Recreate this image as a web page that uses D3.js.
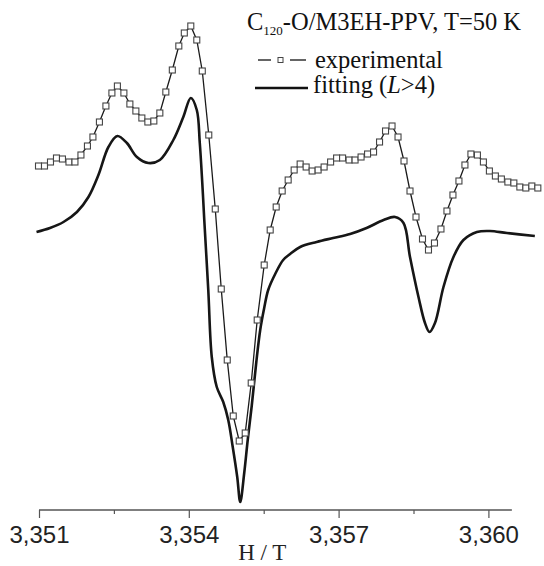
<!DOCTYPE html>
<html>
<head>
<meta charset="utf-8">
<script src="https://cdn.jsdelivr.net/npm/d3@7"></script>
<style>
  body { margin: 0; background: #fff; }
  svg { display: block; }
</style>
</head>
<body>
<script>
// ESR spectrum, values (intensity in arbitrary units)

var expField = [3.35099,3.35111,3.35123,3.35135,3.35147,3.35160,3.35172,3.35184,3.35197,3.35208,
    3.35221,3.35234,3.35246,3.35257,3.35270,3.35282,3.35294,3.35306,3.35318,3.35330,
    3.35342,3.35354,3.35367,3.35380,3.35391,3.35404,3.35416,3.35427,3.35440,3.35453,
    3.35465,3.35477,3.35489,3.35501,3.35513,3.35525,3.35537,3.35551,3.35563,3.35575,
    3.35587,3.35599,3.35611,3.35623,3.35635,3.35647,3.35659,3.35671,3.35684,3.35696,
    3.35708,3.35721,3.35733,3.35745,3.35758,3.35770,3.35782,3.35794,3.35807,3.35819,
    3.35831,3.35843,3.35855,3.35868,3.35880,3.35892,3.35905,3.35917,3.35929,3.35941,
    3.35953,3.35965,3.35978,3.35990,3.36002,3.36014,3.36026,3.36039,3.36051,3.36063,
    3.36075,3.36087,3.36099];
var expSignal = [3.44,3.44,3.48,3.52,3.51,3.48,3.48,3.55,3.64,3.73,
    3.88,4.04,4.17,4.24,4.17,4.06,3.99,3.92,3.88,3.89,
    3.97,4.18,4.40,4.64,4.77,4.84,4.70,4.39,3.75,3.01,
    2.21,1.50,0.94,0.69,0.77,1.27,1.90,2.45,2.80,3.03,
    3.19,3.30,3.40,3.46,3.43,3.39,3.40,3.43,3.48,3.52,
    3.52,3.50,3.50,3.53,3.56,3.58,3.68,3.79,3.84,3.73,
    3.49,3.19,2.93,2.71,2.60,2.67,2.81,2.99,3.15,3.29,
    3.45,3.56,3.55,3.48,3.39,3.34,3.31,3.28,3.27,3.23,
    3.22,3.24,3.22];

var fitField = [3.35095,3.35122,3.35149,3.35176,3.35199,3.35219,3.35239,3.35257,3.35276,3.35296,
    3.35319,3.35342,3.35369,3.35389,3.35404,3.35416,3.35422,3.35427,3.35431,3.35439,
    3.35446,3.35456,3.35469,3.35479,3.35488,3.35497,3.35503,3.35511,3.35518,3.35526,
    3.35535,3.35543,3.35551,3.35559,3.35573,3.35589,3.35603,3.35623,3.35656,3.35689,
    3.35723,3.35756,3.35790,3.35813,3.35830,3.35843,3.35860,3.35873,3.35882,3.35893,
    3.35910,3.35930,3.35950,3.35977,3.36003,3.36037,3.36093];
var fitSignal = [2.78,2.82,2.88,2.98,3.13,3.35,3.63,3.74,3.67,3.53,
    3.47,3.50,3.70,3.93,4.12,4.00,3.67,3.27,2.90,2.20,
    1.53,1.23,1.08,0.90,0.63,0.33,0.08,0.37,0.70,1.04,
    1.47,1.80,2.02,2.20,2.36,2.50,2.56,2.63,2.68,2.72,
    2.76,2.82,2.90,2.93,2.87,2.53,2.13,1.87,1.78,1.87,
    2.23,2.53,2.70,2.78,2.79,2.77,2.74];

var majorTicks = [3.351, 3.354, 3.357, 3.360];
var minorTicks = [3.3525, 3.3555, 3.3585];

var width = 544, height = 566;

var x = d3.scaleLinear()
    .domain([3.351, 3.360])
    .range([39, 488.4]);

var y = d3.scaleLinear()
    .domain([0, 5])
    .range([510, 10]);

var commaLocale = d3.formatLocale({decimal: ",", thousands: ".", grouping: [3], currency: ["", ""]});
var fmt = commaLocale.format(".3f");

var svg = d3.select("body").append("svg")
    .attr("width", width)
    .attr("height", height);

///////////////////////////
// AXIS

var xAxis = d3.axisBottom(x)
    .tickValues(majorTicks)
    .tickSize(8)
    .tickPadding(8)
    .tickFormat(fmt)
    .tickSizeOuter(0);

var xMinor = d3.axisBottom(x)
    .tickValues(minorTicks)
    .tickSize(4)
    .tickFormat("");

var gx = svg.append("g")
    .attr("transform", "translate(0," + y(0) + ")")
    .call(xAxis);
gx.select(".domain").remove();
gx.selectAll("line").attr("stroke", "#555").attr("stroke-width", 1.2);
gx.selectAll("text")
    .style("font-family", "'Liberation Sans', Arial, sans-serif")
    .style("font-size", "24px")
    .attr("fill", "#222");

var gm = svg.append("g")
    .attr("transform", "translate(0," + y(0) + ")")
    .call(xMinor);
gm.select(".domain").remove();
gm.selectAll("line").attr("stroke", "#555").attr("stroke-width", 1.2);

// baseline, runs a bit past the last tick
svg.append("line")
    .attr("x1", x(3.351)).attr("x2", x(3.36047))
    .attr("y1", y(0)).attr("y2", y(0))
    .attr("stroke", "#555")
    .attr("stroke-width", 1.4);

svg.append("text")
    .attr("x", x(3.35547))
    .attr("y", 560)
    .attr("text-anchor", "middle")
    .style("font-family", "'Liberation Serif', 'Times New Roman', serif")
    .style("font-size", "23px")
    .attr("fill", "#222")
    .text("H / T");

///////////////////////////
// CURVES

var expData = expField.map(function(h, i) { return [h, expSignal[i]]; });
var fitData = fitField.map(function(h, i) { return [h, fitSignal[i]]; });

var expLine = d3.line()
    .x(function(d) { return x(d[0]); })
    .y(function(d) { return y(d[1]); });

var fitLine = d3.line()
    .curve(d3.curveCatmullRom.alpha(0.5))
    .x(function(d) { return x(d[0]); })
    .y(function(d) { return y(d[1]); });

svg.append("path")
    .datum(fitData)
    .attr("d", fitLine)
    .attr("fill", "none")
    .attr("stroke", "#161616")
    .attr("stroke-width", 2.6)
    .attr("stroke-linejoin", "round");

svg.append("path")
    .datum(expData)
    .attr("d", expLine)
    .attr("fill", "none")
    .attr("stroke", "#1a1a1a")
    .attr("stroke-width", 1.3);

var sq = 6;
svg.selectAll(".pt")
    .data(expData)
    .enter().append("rect")
    .attr("class", "pt")
    .attr("x", function(d) { return x(d[0]) - sq / 2; })
    .attr("y", function(d) { return y(d[1]) - sq / 2; })
    .attr("width", sq)
    .attr("height", sq)
    .attr("fill", "#fff")
    .attr("stroke", "#444")
    .attr("stroke-width", 1.1);

///////////////////////////
// TITLE + LEGEND

var serif = "'Liberation Serif', 'Times New Roman', serif";

var title = svg.append("text")
    .attr("x", 247)
    .attr("y", 30)
    .style("font-family", serif)
    .style("font-size", "24.5px")
    .attr("fill", "#111");
title.append("tspan").text("C");
title.append("tspan").attr("dy", 5).style("font-size", "13px").text("120");
title.append("tspan").attr("dy", -5).text("-O/M3EH-PPV, T=50 K");

var lg = svg.append("g");
lg.append("line")
    .attr("x1", 258).attr("x2", 271).attr("y1", 60).attr("y2", 60)
    .attr("stroke", "#111").attr("stroke-width", 1.3);
lg.append("line")
    .attr("x1", 290).attr("x2", 306).attr("y1", 60).attr("y2", 60)
    .attr("stroke", "#111").attr("stroke-width", 1.3);
lg.append("rect")
    .attr("x", 278).attr("y", 57.5).attr("width", 5).attr("height", 5)
    .attr("fill", "#fff").attr("stroke", "#444").attr("stroke-width", 1);
lg.append("text")
    .attr("x", 315).attr("y", 68)
    .style("font-family", serif).style("font-size", "24.5px").attr("fill", "#111")
    .text("experimental");

lg.append("line")
    .attr("x1", 255).attr("x2", 308).attr("y1", 88).attr("y2", 88)
    .attr("stroke", "#111").attr("stroke-width", 2.6);
var fitLabel = lg.append("text")
    .attr("x", 313).attr("y", 93)
    .style("font-family", serif).style("font-size", "24.5px").attr("fill", "#111");
fitLabel.append("tspan").text("fitting (");
fitLabel.append("tspan").style("font-style", "italic").text("L");
fitLabel.append("tspan").text(">4)");
</script>
</body>
</html>
